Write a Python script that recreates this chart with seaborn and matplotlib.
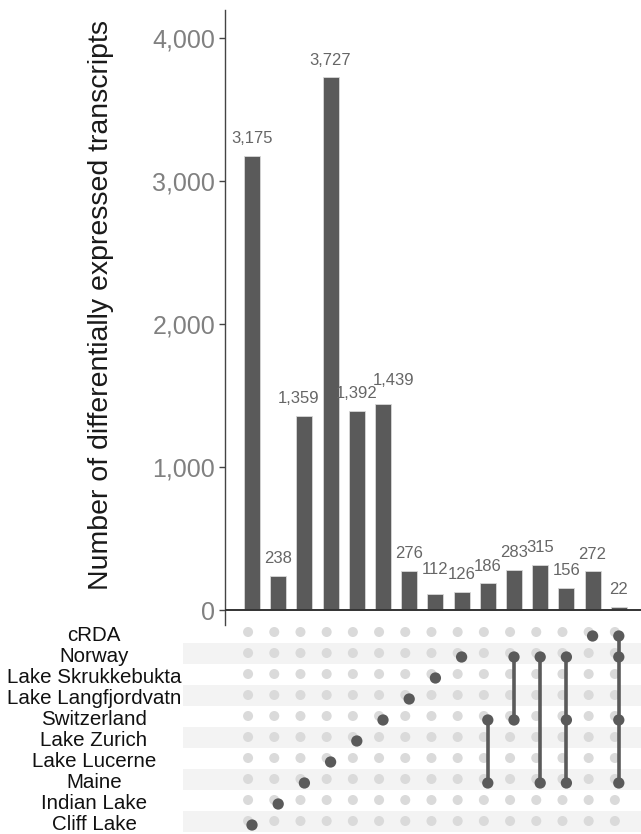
import numpy as np
import pandas as pd
import seaborn as sns
import matplotlib
matplotlib.use("Agg")
import matplotlib.pyplot as plt
from matplotlib import font_manager
from matplotlib.ticker import FuncFormatter
from matplotlib.transforms import blended_transform_factory

# ---------------- data ----------------
sets = ["cRDA", "Norway", "Lake Skrukkebukta", "Lake Langfjordvatn", "Switzerland",
        "Lake Zurich", "Lake Lucerne", "Maine", "Indian Lake", "Cliff Lake"]
combos = [
    ["Cliff Lake"],
    ["Indian Lake"],
    ["Maine"],
    ["Lake Lucerne"],
    ["Lake Zurich"],
    ["Switzerland"],
    ["Lake Langfjordvatn"],
    ["Lake Skrukkebukta"],
    ["Norway"],
    ["Switzerland", "Maine"],
    ["Norway", "Switzerland"],
    ["Norway", "Maine"],
    ["Norway", "Switzerland", "Maine"],
    ["cRDA"],
    ["cRDA", "Norway", "Switzerland", "Maine"],
]
counts = [3175, 238, 1359, 3727, 1392, 1439, 276, 112, 126, 186, 283, 315, 156, 272, 22]
yticks = [0, 1000, 2000, 3000, 4000]
ylabel = "Number of differentially expressed transcripts"

# label nudges (pixels) for overlapping count labels
label_nudge = {2: (-6, 0), 5: (11, 7), 7: (0, 7)}

# ---------------- style ----------------
sns.set_theme(style="white")
plt.rcParams["font.family"] = ["Liberation Sans", "DejaVu Sans"]

installed = {f.name for f in font_manager.fontManager.ttflist}
if "Liberation Sans Narrow" in installed:
    row_family, row_size = ["Liberation Sans Narrow", "Liberation Sans"], 17.5
else:
    row_family, row_size = ["Liberation Sans", "DejaVu Sans"], 14.8

W, H = 641, 834
fig = plt.figure(figsize=(W / 100, H / 100), dpi=100)

bar_color = "#5a5a5a"
grey_dot = "#dadada"
band_color = "#f3f3f3"

step = 26.2
x0 = 252.0

# bar axes
ax_left_px, ax_top_px, ax_bot_px = 225, 10, 625
axb = fig.add_axes([ax_left_px / W, (H - ax_bot_px) / H, 1 - ax_left_px / W, (ax_bot_px - ax_top_px) / H])
axb.set_facecolor("none")

df = pd.DataFrame({"combo": [" & ".join(c) for c in combos], "count": counts})
sns.barplot(data=df, x="combo", y="count", order=df["combo"], color=bar_color,
            width=0.61, saturation=1, edgecolor="#d8d8d8", linewidth=0.6, ax=axb)

axb.set_xlim((ax_left_px - x0) / step, (W - x0) / step)
px_per_unit = (610 - 38) / 4000
axb.set_ylim(-15 / px_per_unit, (610 - ax_top_px) / px_per_unit)
axb.set_xticks([])
axb.set_xlabel("")
axb.set_ylabel("")
axb.set_yticks(yticks)
axb.yaxis.set_major_formatter(FuncFormatter(lambda v, p: f"{int(v):,}"))
axb.tick_params(axis="y", left=True, length=4, width=1, color="#444444", pad=3,
                labelsize=18, labelcolor="#808080")
for s in ["top", "right", "bottom"]:
    axb.spines[s].set_visible(False)
axb.spines["left"].set_color("#444444")
axb.spines["left"].set_linewidth(1)
axb.axhline(0, color="#333333", lw=1.4, zorder=5)

for i, v in enumerate(counts):
    dx, dy = label_nudge.get(i, (0, 0))
    axb.annotate(f"{v:,}", (i, v), xytext=(dx * 0.72, (17 + dy) * 0.72),
                 textcoords="offset points", ha="center", va="center",
                 fontsize=12, color="#666666")

fig.text(101 / W, 1 - 305 / H, ylabel, rotation=90, ha="center", va="center",
         fontsize=20.5, color="#1a1a1a")

# matrix axes
m_left_px, m_top_px = 183, 621
axm = fig.add_axes([m_left_px / W, 0, 1 - m_left_px / W, (H - m_top_px) / H])
axm.set_facecolor("none")
axm.set_xlim((m_left_px - x0) / step, (W - x0) / step)
row0_px, row_step = 632, 21
axm.set_ylim((H - row0_px) / row_step, (m_top_px - row0_px) / row_step)
axm.axis("off")

for k in range(len(sets)):
    if k % 2 == 1:
        axm.axhspan(k - 0.5, k + 0.5, color=band_color, zorder=0, lw=0)

gx, gy = np.meshgrid(np.arange(len(combos)), np.arange(len(sets)))
grid = pd.DataFrame({"x": gx.ravel() - 0.15, "y": gy.ravel()})
sns.scatterplot(data=grid, x="x", y="y", s=52, color=grey_dot, edgecolor="none",
                ax=axm, zorder=2, legend=False)

dy_act = 0.19
act = []
for i, c in enumerate(combos):
    rows = sorted(sets.index(n) for n in c)
    if len(rows) > 1:
        axm.plot([i, i], [rows[0] + dy_act, rows[-1] + dy_act], color=bar_color,
                 lw=2.6, zorder=3, solid_capstyle="butt")
    for r in rows:
        act.append((i, r + dy_act))
act = pd.DataFrame(act, columns=["x", "y"])
sns.scatterplot(data=act, x="x", y="y", s=66, color=bar_color, edgecolor="none",
                ax=axm, zorder=4, legend=False)
axm.set_xlabel("")
axm.set_ylabel("")

tr = blended_transform_factory(fig.transFigure, axm.transData)
for k, name in enumerate(sets):
    axm.text(94 / W, k + dy_act, name, transform=tr, ha="center", va="center",
             fontsize=row_size, family=row_family, color="#111111", clip_on=False)

fig.savefig("out.png", dpi=100)
